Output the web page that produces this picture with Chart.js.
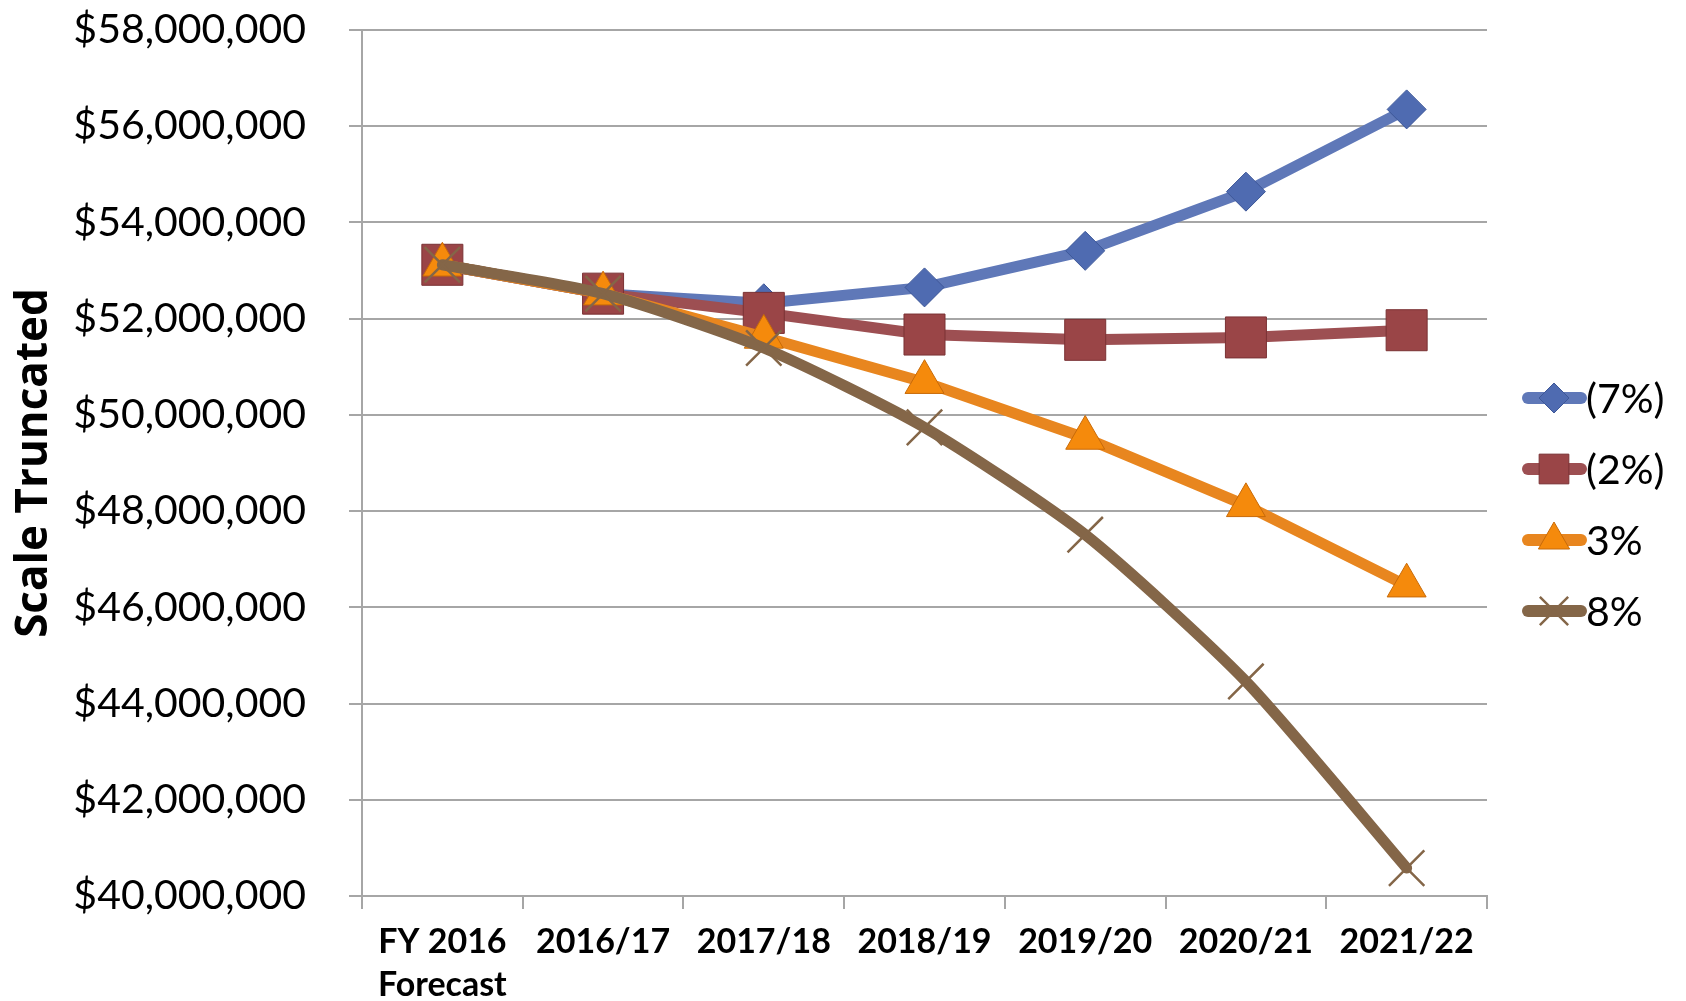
<!DOCTYPE html>
<html><head><meta charset="utf-8">
<script src="https://cdn.jsdelivr.net/npm/chart.js@4/dist/chart.umd.min.js"></script>
<style>html,body{margin:0;padding:0;background:#fff;}#wrap{width:1686px;height:1001px;}</style>
</head><body><div id="wrap"><canvas id="c" width="1686" height="1001"></canvas></div>
<script>
// ---- data ----
const categories = [['FY 2016', 'Forecast'], '2016/17', '2017/18', '2018/19', '2019/20', '2020/21', '2021/22'];
const seriesNames = ['(7%)', '(2%)', '3%', '8%'];
const valuesMinus7 = [53120000, 52520000, 52320000, 52650000, 53410000, 54640000, 56350000];
const valuesMinus2 = [53120000, 52520000, 52120000, 51670000, 51560000, 51610000, 51760000];
const valuesPlus3  = [53120000, 52520000, 51620000, 50680000, 49520000, 48120000, 46450000];
const valuesPlus8  = [53120000, 52520000, 51390000, 49740000, 47510000, 44460000, 40580000];
const yMin = 40000000, yMax = 58000000, yStep = 2000000;
const yTitle = 'Scale Truncated';

const fmt = v => '$' + Math.round(v).toLocaleString('en-US');

const legendPlugin = {
  id: 'sideLegend',
  afterDraw(chart) {
    const ctx = chart.ctx;
    const ds = chart.data.datasets;
    const x0 = chart.chartArea.right + 35;
    const legendR = [15, 21, 18, 20];
    ds.forEach((d, i) => {
      const y = 398 + i * 71;
      ctx.save();
      ctx.strokeStyle = d.borderColor;
      ctx.lineWidth = 12;
      ctx.lineCap = 'round';
      ctx.beginPath();
      ctx.moveTo(x0 + 6, y);
      ctx.lineTo(x0 + 59, y);
      ctx.stroke();
      ctx.lineCap = 'butt';
      ctx.fillStyle = d.pointBackgroundColor;
      ctx.strokeStyle = d.pointBorderColor;
      ctx.lineWidth = d.pointBorderWidth;
      Chart.helpers.drawPoint(ctx, {pointStyle: d.pointStyle, radius: legendR[i], borderWidth: d.pointBorderWidth, rotation: 0}, x0 + 32, y);
      ctx.fillStyle = '#000';
      ctx.font = '41px Lato';
      ctx.textAlign = 'left';
      ctx.textBaseline = 'middle';
      ctx.fillText(d.label, x0 + 64, y + 2);
      ctx.restore();
    });
  }
};

new Chart(document.getElementById('c'), {
  type: 'line',
  data: {
    labels: categories,
    datasets: [
      {label: seriesNames[0], data: valuesMinus7, borderColor: '#5f78b8', borderWidth: 11,
       pointStyle: 'rectRot', pointRadius: 19.5, pointBackgroundColor: '#4f6bb1', pointBorderColor: '#3d5798', pointBorderWidth: 1, order: 3},
      {label: seriesNames[1], data: valuesMinus2, borderColor: '#9d4f52', borderWidth: 11,
       pointStyle: 'rect', pointRadius: 29, pointBackgroundColor: '#9a4547', pointBorderColor: '#7a3234', pointBorderWidth: 1, order: 2},
      {label: seriesNames[2], data: valuesPlus3, borderColor: '#e8861f', borderWidth: 11,
       pointStyle: 'triangle', pointRadius: 22.5, pointBackgroundColor: '#f58a0c', pointBorderColor: '#c86a08', pointBorderWidth: 1, order: 1},
      {label: seriesNames[3], data: valuesPlus8, borderColor: '#846648', borderWidth: 11, tension: 0.22,
       pointStyle: 'crossRot', pointRadius: 25, pointBackgroundColor: '#846648', pointBorderColor: '#846648', pointBorderWidth: 2.5, order: 0}
    ]
  },
  options: {
    responsive: false, animation: false, devicePixelRatio: 1,
    layout: {padding: {top: 28, right: 199, left: 0, bottom: 0}},
    elements: {line: {borderCapStyle: 'round', borderJoinStyle: 'round'}},
    plugins: {legend: {display: false}, tooltip: {enabled: false}},
    scales: {
      x: {
        offset: true,
        grid: {offset: true, drawOnChartArea: false, drawTicks: true, tickLength: 13, color: '#a6a6a6', lineWidth: 2},
        border: {display: true, color: '#a6a6a6', width: 2},
        ticks: {font: {family: 'Lato', weight: 'bold', size: 34, lineHeight: 1.25}, color: '#000', padding: 12, maxRotation: 0, autoSkip: false},
        afterFit: s => { s.height = 105; s.paddingLeft = 0; s.paddingRight = 0; }
      },
      y: {
        min: yMin, max: yMax,
        grid: {color: '#a6a6a6', lineWidth: 2, tickLength: 13, drawTicks: true},
        border: {display: true, color: '#a6a6a6', width: 2},
        ticks: {stepSize: yStep, callback: v => fmt(v), font: {family: 'Lato', size: 41}, color: '#000', padding: 43},
        title: {display: true, text: yTitle, color: '#000', font: {family: 'Open Sans', weight: 'bold', size: 44}, padding: {top: 8, bottom: 0}},
        afterFit: s => { s.width = 362; s.paddingTop = 0; s.paddingBottom = 0; }
      }
    }
  },
  plugins: [legendPlugin]
});
</script></body></html>
